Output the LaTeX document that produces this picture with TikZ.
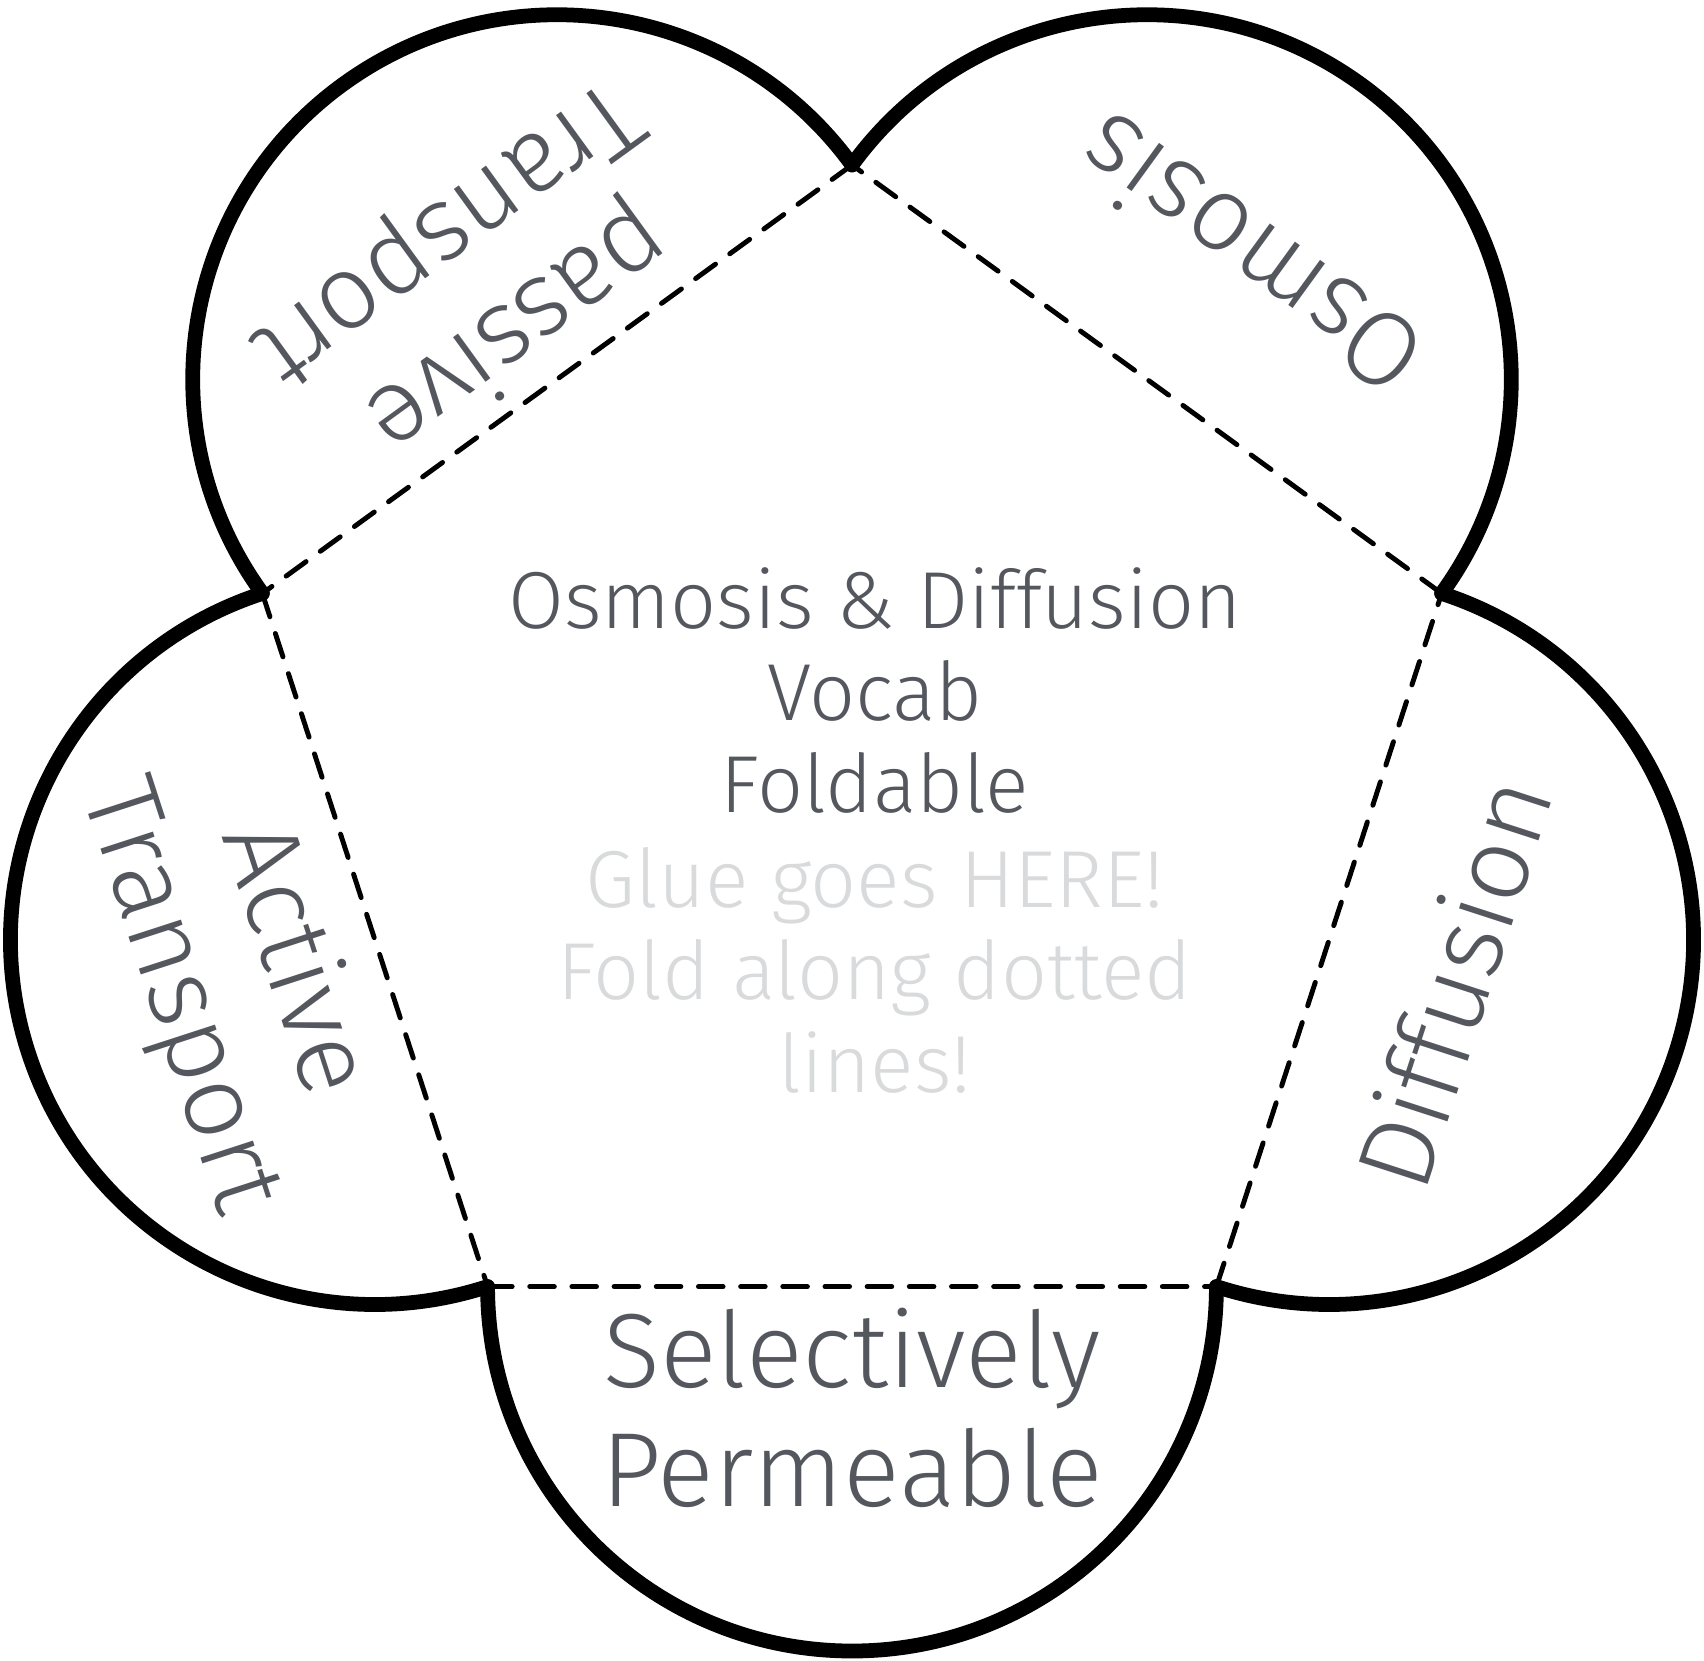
\documentclass[tikz,border=0pt]{standalone}
\usepackage{fontspec}
\usepackage{tkz-euclide}
\usetikzlibrary{calc}
\newfontfamily\foldfont{Fira Sans Light}
\definecolor{TextClr}{RGB}{84,88,94}
\definecolor{GlueClr}{RGB}{216,218,220}

\begin{document}
\begin{tikzpicture}[petal/.style={font=\foldfont\fontsize{30}{34}\selectfont,text=TextClr,align=center,inner sep=0pt},
  title/.style={font=\foldfont\fontsize{23}{26.2}\selectfont,align=center,inner sep=0pt}]
\useasboundingbox (-8.52,-8.76) rectangle (8.52,7.85);

\tkzDefPoint(0,0){O}
\tkzDefPoint(90:6.2){A}
\tkzDefPoint(162:6.2){B}
\tkzDefPoint(234:6.2){C}
\tkzDefPoint(306:6.2){D}
\tkzDefPoint(18:6.2){E}

\tkzDefMidPoint(A,B) \tkzGetPoint{M1}
\tkzDefMidPoint(B,C) \tkzGetPoint{M2}
\tkzDefMidPoint(C,D) \tkzGetPoint{M3}
\tkzDefMidPoint(D,E) \tkzGetPoint{M4}
\tkzDefMidPoint(E,A) \tkzGetPoint{M5}

% fold lines
\tkzDrawSegments[line width=1.4pt,color=black,dash pattern=on 7pt off 5pt](A,B B,C C,D D,E E,A)

% flaps
\tkzDrawArc[line width=4.2pt,color=black,line cap=round](M1,A)(B)
\tkzDrawArc[line width=4.2pt,color=black,line cap=round](M2,B)(C)
\tkzDrawArc[line width=4.2pt,color=black,line cap=round](M3,C)(D)
\tkzDrawArc[line width=4.2pt,color=black,line cap=round](M4,D)(E)
\tkzDrawArc[line width=4.2pt,color=black,line cap=round](M5,E)(A)

\node[petal,rotate=216] (passive) at (126.3:6.27) {passive\\Transport};
\node[petal,rotate=-72] (active) at (197.4:6.46) {Active\\Transport};
\node[petal] (selective) at (-90:6.23) {Selectively\\Permeable};
\node[petal,rotate=72] (diffusion) at (-18.2:6.32) {Diffusion};
\node[petal,rotate=144] (osmosis) at (53.1:6.61) {Osmosis};

% base anchor = last line
\node[title,text=TextClr,anchor=base] (vocab) at (0.23,-0.28) {Osmosis \& Diffusion\\Vocab\\Foldable};
\node[title,text=GlueClr,anchor=base] (glue) at (0.23,-3.07) {Glue goes HERE!\\Fold along dotted\\lines!};

\end{tikzpicture}
\end{document}
